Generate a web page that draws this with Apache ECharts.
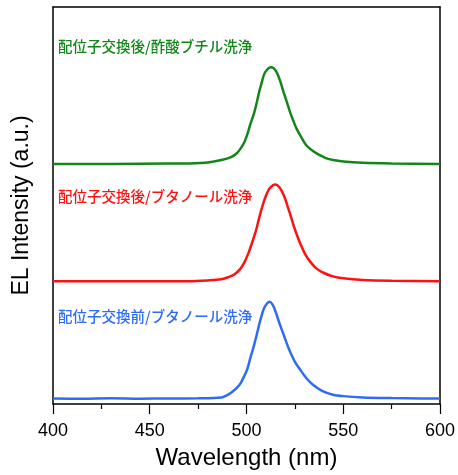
<!DOCTYPE html>
<html>
<head>
<meta charset="utf-8">
<script src="https://cdn.jsdelivr.net/npm/echarts@6/dist/echarts.min.js"></script>
<style>
  html, body { margin: 0; padding: 0; background: #fff; }
  #main { width: 458px; height: 475px; }
</style>
</head>
<body>
<div id="main"></div>
<script>
// wavelength (nm) and normalized EL intensity
const wlGreen = [400, 430, 460, 470, 480, 487, 492, 495, 497, 499, 500.5, 502, 504, 505.5, 506.5, 508, 509, 510.5, 512.5, 514, 515.8, 517.5, 519.2, 521, 522.6, 524.3, 526, 528.5, 531, 534.5, 538, 541, 544.7, 550, 560, 575, 600];
const elGreen = [0.0, 0.0, 0.003, 0.005, 0.015, 0.04, 0.07, 0.11, 0.16, 0.23, 0.31, 0.41, 0.53, 0.65, 0.74, 0.85, 0.92, 0.97, 1.0, 0.99, 0.94, 0.85, 0.74, 0.63, 0.53, 0.44, 0.36, 0.27, 0.19, 0.13, 0.09, 0.06, 0.04, 0.025, 0.012, 0.005, 0.0];

const wlRed = [400, 430, 460, 470, 480, 487, 491, 493.7, 496.5, 498.8, 501, 503.1, 505, 506.5, 508, 509.8, 512, 515, 517, 519.2, 521, 522.6, 524.3, 526, 528, 530.3, 533, 536.2, 540, 544.7, 550, 560, 575, 600];
const elRed = [0.0, 0.0, 0.0, 0.0, 0.008, 0.02, 0.045, 0.07, 0.12, 0.19, 0.29, 0.41, 0.53, 0.65, 0.76, 0.87, 0.96, 1.0, 0.97, 0.89, 0.79, 0.69, 0.58, 0.48, 0.38, 0.28, 0.2, 0.13, 0.085, 0.05, 0.03, 0.013, 0.005, 0.0];

const wlBlue = [400, 415, 430, 445, 460, 475, 487, 490, 492, 495, 497, 499, 500.5, 502, 503.9, 505.3, 506.5, 508, 509, 510.5, 512, 513.5, 515, 517, 519.2, 521, 522.6, 525, 527.7, 531, 534.5, 539, 544.7, 550, 560, 575, 590, 600];
const elBlue = [0.0, -0.002, 0.002, -0.002, 0.001, 0.002, 0.01, 0.035, 0.06, 0.11, 0.16, 0.24, 0.31, 0.42, 0.55, 0.66, 0.76, 0.87, 0.93, 0.98, 1.0, 0.97, 0.9, 0.78, 0.66, 0.56, 0.48, 0.38, 0.3, 0.21, 0.14, 0.08, 0.04, 0.025, 0.012, 0.005, 0.001, 0.0];

// vertical offsets of each trace
const offsets = [0.055, 1.237, 2.419];
const amp = 0.975;

const labels = ['配位子交換前/ブタノール洗浄', '配位子交換後/ブタノール洗浄', '配位子交換後/酢酸ブチル洗浄'];
const colors = ['#2e6cf6', '#ff1111', '#13861a'];

const xTicks = [400, 450, 500, 550, 600];

const build = (wl, el, off) => wl.map((w, i) => [w, off + amp * el[i]]);

const spectra = [
  build(wlBlue, elBlue, offsets[0]),
  build(wlRed, elRed, offsets[1]),
  build(wlGreen, elGreen, offsets[2])
];

const labelTops = [309, 189, 39];

const chart = echarts.init(document.getElementById('main'));

const frameAxis = {
  axisLine: { show: true, onZero: false, lineStyle: { color: '#000', width: 1.5 } },
  axisTick: { show: false },
  axisLabel: { show: false },
  splitLine: { show: false }
};

chart.setOption({
  animation: false,
  backgroundColor: '#fff',
  grid: { left: 53, right: 13, top: 7, bottom: 67 },
  xAxis: [
    {
      type: 'value',
      min: xTicks[0],
      max: xTicks[xTicks.length - 1],
      interval: 50,
      name: 'Wavelength (nm)',
      nameLocation: 'middle',
      nameGap: 42,
      nameTextStyle: { fontFamily: 'Liberation Sans', fontSize: 24, color: '#000' },
      axisLine: { show: true, onZero: false, lineStyle: { color: '#000', width: 1.5 } },
      axisTick: { show: true, length: 10, lineStyle: { color: '#000', width: 1.2 } },
      minorTick: { show: true, splitNumber: 2, length: 5, lineStyle: { color: '#000', width: 1.2 } },
      axisLabel: { fontFamily: 'Liberation Sans', fontSize: 18, color: '#000', margin: 18 },
      splitLine: { show: false }
    },
    Object.assign({ type: 'value', position: 'top', min: 400, max: 600 }, frameAxis)
  ],
  yAxis: [
    {
      type: 'value',
      min: 0,
      max: 4,
      name: 'EL Intensity (a.u.)',
      nameLocation: 'middle',
      nameGap: 20,
      nameTextStyle: { fontFamily: 'Liberation Sans', fontSize: 23, color: '#000' },
      axisLine: { show: true, onZero: false, lineStyle: { color: '#000', width: 1.5 } },
      axisTick: { show: false },
      axisLabel: { show: false },
      splitLine: { show: false }
    },
    Object.assign({ type: 'value', position: 'right', min: 0, max: 4 }, frameAxis)
  ],
  series: spectra.map((d, i) => ({
    type: 'line',
    name: labels[i],
    data: d,
    smooth: 0.3,
    showSymbol: false,
    lineStyle: { color: colors[i], width: 2.5 }
  })),
  graphic: labels.map((t, i) => ({
    type: 'text',
    left: 58,
    top: labelTops[i],
    style: {
      text: t,
      fill: colors[i],
      font: '500 14.5px "Noto Sans CJK JP"'
    }
  }))
});
</script>
</body>
</html>
